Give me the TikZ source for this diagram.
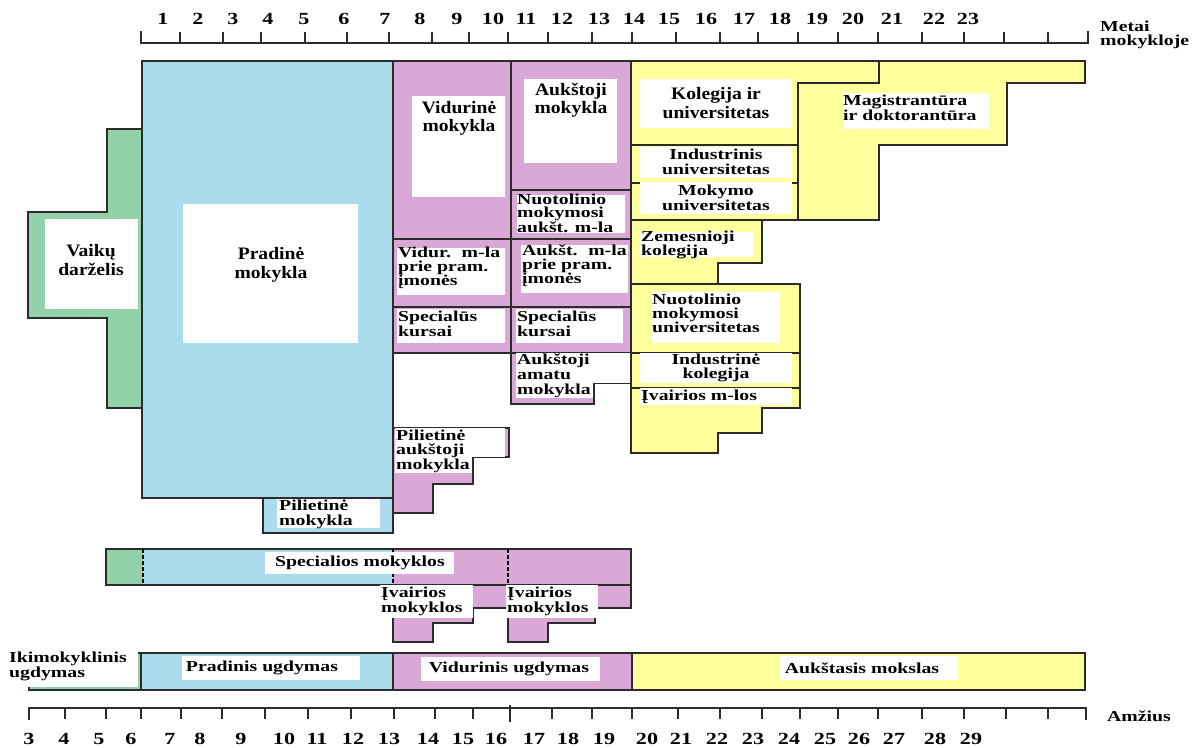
\documentclass[tikz,border=0pt]{standalone}
\usepackage{fontspec}
\setmainfont{Liberation Serif}[FakeStretch=1.3]
\newfontfamily\bigfont{Liberation Serif}[FakeStretch=1.12]
\definecolor{kgreen}{HTML}{93D2A8}
\definecolor{kblue}{HTML}{ABDCEE}
\definecolor{kpink}{HTML}{DAA8D7}
\definecolor{kyellow}{HTML}{FFFF9C}
\definecolor{edge}{HTML}{2B2B2B}
\tikzset{
  outline/.style={draw=edge, line width=1.4pt, line join=miter},
  divider/.style={draw=edge, line width=1.2pt},
  dashdiv/.style={draw=black, line width=1.2pt, dash pattern=on 4pt off 2pt},
  whitebox/.style={fill=white},
  lbl/.style={inner sep=0pt, align=left, font=\bfseries\fontsize{15.2}{#1}\selectfont},
  lbl/.default=14.5,
  clbl/.style={lbl=#1, align=center},
  clbl/.default=15,
  biglbl/.style={inner sep=0pt, align=center, font=\bigfont\bfseries\fontsize{17.5}{#1}\selectfont},
  biglbl/.default=18.5,
  num/.style={inner sep=0pt, font=\bfseries\fontsize{17}{17}\selectfont},
  tick/.style={draw=edge, line width=1.5pt}
}
\begin{document}
\begin{tikzpicture}[x=1pt, y=-1pt]
\useasboundingbox (0,0) rectangle (1199,747);

% ---------- upper ruler: years at school ----------
\draw[tick] (141,31) -- (141,43) -- (1088,43) -- (1088,31);
\foreach \t in {180,223,261,305,347,389,432,469,508,548,592,632,676,720,758,798,838,878,922,964,1004,1048}
  \draw[tick] (\t,43) -- (\t,32);
\foreach \n/\p in {1/163,2/198,3/233,4/268,5/304,6/344,7/385,8/420,9/457,10/493,11/526,12/562,13/599,14/634,15/669,16/706,17/744,18/780,19/817,20/853,21/892,22/934,23/968}
  \node[num] (y\n) at (\p,19) {\n};
\node[lbl=14, anchor=west] (metai) at (1100,35) {Metai\\mokykloje};

% ---------- kindergarten ----------
\path[outline, fill=kgreen] (142,129) -- (107,129) -- (107,212) -- (28,212) -- (28,318)
  -- (107,318) -- (107,408) -- (142,408) -- cycle;

% ---------- primary school ----------
\path[outline, fill=kblue] (263,498) rectangle (393,533);
\path[outline, fill=kblue] (142,61) rectangle (393,498);

% ---------- secondary and high schools ----------
\path[outline, fill=kpink] (393,61) rectangle (631,353);
\draw[divider] (511,61) -- (511,353);
\draw[divider] (511,190) -- (631,190);
\draw[divider] (393,239) -- (631,239);
\draw[divider] (393,307) -- (631,307);
\path[outline, fill=kpink] (511,353) -- (631,353) -- (631,383) -- (594,383) -- (594,404)
  -- (511,404) -- cycle;
\path[outline, fill=kpink] (393,428) -- (509,428) -- (509,457) -- (473,457) -- (473,484)
  -- (433,484) -- (433,513) -- (393,513) -- cycle;

% ---------- higher education ----------
\path[outline, fill=kyellow] (631,61) -- (1085,61) -- (1085,83) -- (1007,83) -- (1007,145)
  -- (879,145) -- (879,220) -- (631,220) -- cycle;
\draw[divider] (879,61) -- (879,83) -- (798,83) -- (798,220);
\draw[divider] (631,145) -- (798,145);
\draw[divider] (631,183) -- (798,183);
\path[outline, fill=kyellow] (631,220) -- (762,220) -- (762,263) -- (718,263) -- (718,284)
  -- (631,284) -- cycle;
\path[outline, fill=kyellow] (631,284) -- (800,284) -- (800,408) -- (762,408) -- (762,433)
  -- (718,433) -- (718,453) -- (631,453) -- cycle;
\draw[divider] (631,353) -- (800,353);
\draw[divider] (631,388) -- (800,388);

% ---------- special schools ----------
\fill[kgreen] (106,549) rectangle (143,585);
\fill[kblue] (143,549) rectangle (393,585);
\fill[kpink] (393,549) rectangle (631,585);
\path[outline, fill=kpink] (393,585) -- (508,585) -- (508,608) -- (473,608) -- (473,623)
  -- (433,623) -- (433,642) -- (393,642) -- cycle;
\path[outline, fill=kpink] (508,585) -- (631,585) -- (631,608) -- (595,608) -- (595,623)
  -- (548,623) -- (548,642) -- (508,642) -- cycle;
\draw[outline] (106,549) rectangle (631,585);
\draw[dashdiv] (143,549) -- (143,585);
\draw[dashdiv] (393,549) -- (393,585);
\draw[dashdiv] (508,549) -- (508,585);

% ---------- education levels ----------
\fill[kgreen] (29,653) rectangle (141,690);
\fill[kblue] (141,653) rectangle (393,690);
\fill[kpink] (393,653) rectangle (632,690);
\fill[kyellow] (632,653) rectangle (1085,690);
\draw[outline] (29,653) rectangle (1085,690);
\draw[divider] (141,653) -- (141,690);
\draw[divider] (393,653) -- (393,690);
\draw[divider] (632,653) -- (632,690);

% ---------- lower ruler: age ----------
\draw[tick] (29,720) -- (29,708) -- (1086,708) -- (1086,720);
\foreach \t in {65,106,141,181,222,265,308,351,394,435,473,552,592,632,678,720,762,800,838,878,922,964,1006,1048}
  \draw[tick] (\t,708) -- (\t,719);
\draw[tick] (510,705) -- (510,722);
\foreach \n/\p in {3/29,4/64,5/99,6/131,7/170,8/200,9/241,10/284,11/317,12/353,13/389,14/428,15/463,16/496,17/534,18/568,19/604,20/647,21/681,22/717,23/753,24/789,25/825,26/859,27/894,28/935,29/971}
  \node[num] (a\n) at (\p,739) {\n};
\node[lbl, anchor=west] (amzius) at (1107,716) {Amžius};

% ---------- label backgrounds ----------
\fill[whitebox] (45,219) rectangle (138,309);
\fill[whitebox] (183,204) rectangle (358,343);
\fill[whitebox] (412,96) rectangle (505,197);
\fill[whitebox] (524,79) rectangle (617,163);
\fill[whitebox] (517,195) rectangle (625,233);
\fill[whitebox] (397,248) rectangle (505,295);
\fill[whitebox] (521,245) rectangle (628,293);
\fill[whitebox] (397,309) rectangle (505,343);
\fill[whitebox] (516,309) rectangle (623,343);
\fill[whitebox] (516,353) rectangle (630,383);
\fill[whitebox] (516,383) rectangle (593,398);
\fill[whitebox] (395,428) rectangle (505,457);
\fill[whitebox] (395,457) rectangle (472,473);
\fill[whitebox] (277,499) rectangle (380,528);
\fill[whitebox] (640,79) rectangle (792,128);
\fill[whitebox] (640,147) rectangle (792,178);
\fill[whitebox] (640,182) rectangle (792,214);
\fill[whitebox] (640,232) rectangle (753,257);
\fill[whitebox] (843,93) rectangle (989,129);
\fill[whitebox] (652,292) rectangle (780,343);
\fill[whitebox] (640,353) rectangle (792,383);
\fill[whitebox] (640,388) rectangle (792,405);
\fill[whitebox] (265,552) rectangle (454,574);
\fill[whitebox] (380,585) rectangle (473,618);
\fill[whitebox] (506,585) rectangle (598,618);
\fill[whitebox] (0,650) rectangle (138,687);
\fill[whitebox] (182,656) rectangle (360,680);
\fill[whitebox] (421,657) rectangle (600,681);
\fill[whitebox] (780,656) rectangle (958,680);

% ---------- labels ----------
\node[biglbl=19] (darzelis) at (91,260) {Vaikų\\darželis};
\node[biglbl=18.5] (pradine) at (271,265) {Pradinė\\mokykla};
\node[biglbl=18] (vidurine) at (459,118) {Vidurinė\\mokykla};
\node[biglbl=18.5] (aukstoji) at (571,100) {Aukštoji\\mokykla};
\node[lbl=13.3, anchor=west] (nuotaukst) at (517,213) {Nuotolinio\\mokymosi\\aukšt. m-la};
\node[lbl=13.5, anchor=west] (vidpram) at (398,268) {Vidur.\hspace{0.7em}m-la\\prie pram.\\įmonės};
\node[lbl=13.5, anchor=west] (aukpram) at (522,266) {Aukšt.\hspace{0.7em}m-la\\prie pram.\\įmonės};
\node[lbl=14.5, anchor=west] (speck1) at (398,324) {Specialūs\\kursai};
\node[lbl=14.5, anchor=west] (speck2) at (517,324) {Specialūs\\kursai};
\node[lbl=15, anchor=west] (amatu) at (517,376) {Aukštoji\\amatu\\mokykla};
\node[lbl=14.5, anchor=west] (pilaukst) at (396,451) {Pilietinė\\aukštoji\\mokykla};
\node[lbl=15, anchor=west] (pilmok) at (279,514) {Pilietinė\\mokykla};
\node[biglbl=19] (kolegija) at (716,103) {Kolegija ir\\universitetas};
\node[clbl=15] (industr) at (716,162) {Industrinis\\universitetas};
\node[clbl=15] (mokymo) at (716,198) {Mokymo\\universitetas};
\node[lbl=12.5, anchor=west] (zemesn) at (641,245) {Zemesnioji\\kolegija};
\node[lbl=12.5, anchor=west] (magistr) at (843,108) {Magistrantūra\\ir doktorantūra};
\node[lbl=14, anchor=west] (nuotuni) at (652,313) {Nuotolinio\\mokymosi\\universitetas};
\node[clbl=14] (indkol) at (716,368) {Industrinė\\kolegija};
\node[lbl, anchor=west] (ivmlos) at (641,397) {Įvairios m-los};
\node[clbl] (specm) at (360,563) {Specialios mokyklos};
\node[lbl=13.5, anchor=west] (ivairios1) at (381,601) {Įvairios\\mokyklos};
\node[lbl=13.5, anchor=west] (ivairios2) at (507,601) {Įvairios\\mokyklos};
\node[lbl=12.5, anchor=west] (ikimok) at (9,666) {Ikimokyklinis\\ugdymas};
\node[clbl] (pradug) at (262,668) {Pradinis ugdymas};
\node[clbl] (vidug) at (509,669) {Vidurinis ugdymas};
\node[clbl] (aukstm) at (862,668) {Aukštasis mokslas};
\end{tikzpicture}
\end{document}
